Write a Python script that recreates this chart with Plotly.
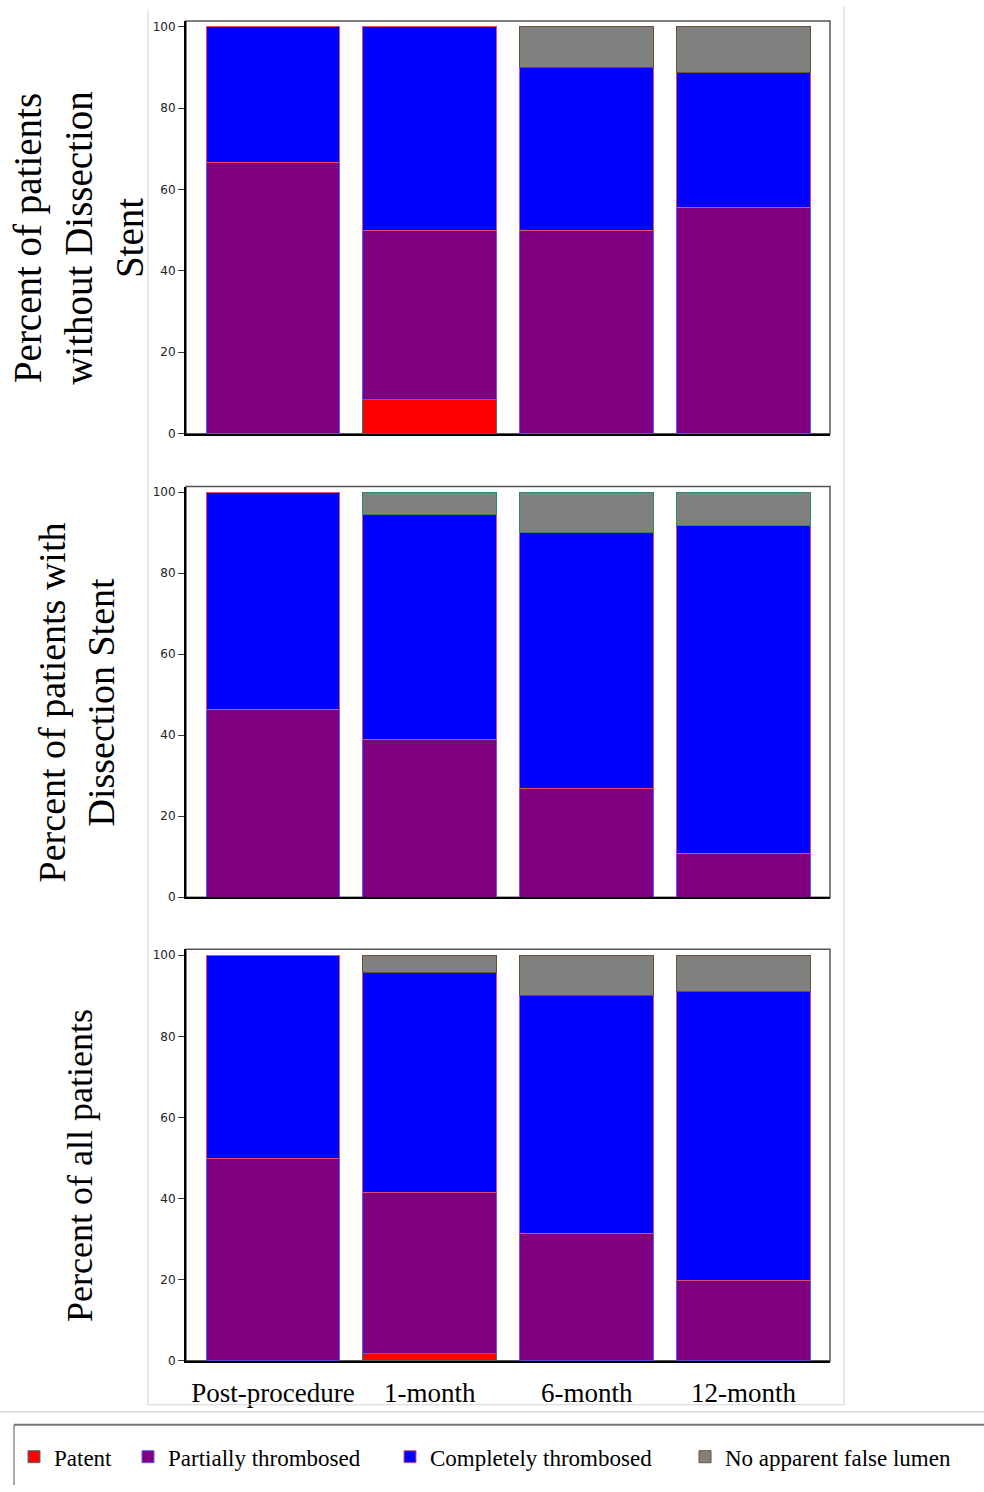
import plotly.graph_objects as go

W, H = 984, 1492
# small vertical correction observed between layout pixels and the captured picture
S = 0.9955

categories = ["Post-procedure", "1-month", "6-month", "12-month"]
series_names = ["Patent", "Partially thrombosed", "Completely thrombosed", "No apparent false lumen"]
y_ticks = [0, 20, 40, 60, 80, 100]

# Panel 1: patients without dissection stent (%)
without_patent = [0, 8.3, 0, 0]
without_partial = [66.7, 41.7, 50.0, 55.6]
without_complete = [33.3, 50.0, 40.0, 33.3]
without_none = [0, 0, 10.0, 11.1]

# Panel 2: patients with dissection stent (%)
with_patent = [0, 0, 0, 0]
with_partial = [46.4, 38.9, 26.9, 10.9]
with_complete = [53.6, 55.6, 63.2, 80.9]
with_none = [0, 5.5, 9.9, 8.2]

# Panel 3: all patients (%)
all_patent = [0, 1.7, 0, 0]
all_partial = [50.0, 39.9, 31.3, 19.7]
all_complete = [50.0, 54.2, 58.8, 71.4]
all_none = [0, 4.2, 9.9, 8.9]

titles = [
    "Percent of patients<br>without Dissection<br>Stent",
    "Percent of patients with<br>Dissection Stent",
    "Percent of all patients",
]

fill_colors = ["#FF0000", "#800080", "#0000FF", "#808080"]
edge_colors_a = ["#2a7f7f", "#5a5aff", "#e0506a", "#6e4f30"]
edge_colors_b = ["#2a7f7f", "#5a5aff", "#e0506a", "#2a8a7a"]

panels = [
    ([without_patent, without_partial, without_complete, without_none], edge_colors_a),
    ([with_patent, with_partial, with_complete, with_none], edge_colors_b),
    ([all_patent, all_partial, all_complete, all_none], edge_colors_a),
]


def px(x):
    return x / W


def py(y):
    return 1 - (y / S) / H


# pixel geometry (plot areas)
x_left, x_right = 186, 830
panel_px = [(20, 433), (486, 897), (949, 1361)]   # (top, bottom)
y_tops = [101.47, 101.4, 101.5]
title_pos = [(78, 237, 39), (76, 702, 38), (80, 1166, 36)]

fig = go.Figure()


def nz(vals):
    return [v if v else None for v in vals]


for p, (series, edges) in enumerate(panels):
    xa = "x" if p == 0 else f"x{p+1}"
    ya = "y" if p == 0 else f"y{p+1}"
    for s, vals in enumerate(series):
        fig.add_trace(go.Bar(
            x=categories, y=nz(vals), name=series_names[s],
            marker=dict(color=fill_colors[s], line=dict(color=edges[s], width=1)),
            xaxis=xa, yaxis=ya, showlegend=(p == 2), legendgroup=series_names[s],
            hoverinfo="skip"
        ))

layout = dict(
    width=W, height=H,
    margin=dict(l=0, r=0, t=0, b=0),
    paper_bgcolor="white", plot_bgcolor="white",
    barmode="stack", bargap=0.147,
    showlegend=True,
    legend=dict(
        orientation="h", x=px(14), xanchor="left", y=py(1442 * S), yanchor="top",
        font=dict(family="Liberation Serif", size=23, color="black"),
        traceorder="normal",
        bgcolor="rgba(0,0,0,0)",
    ),
)

shapes = []
annotations = []
for p in range(3):
    top, bot = panel_px[p]
    xk = "xaxis" if p == 0 else f"xaxis{p+1}"
    yk = "yaxis" if p == 0 else f"yaxis{p+1}"
    layout[xk] = dict(
        domain=[px(x_left), px(x_right)], range=[-0.554, 3.551], type="category",
        anchor="y" if p == 0 else f"y{p+1}",
        showline=True, linecolor="black", linewidth=2, ticks="", showgrid=False, zeroline=False,
        showticklabels=(p == 2), ticklabelstandoff=7,
        tickfont=dict(family="Liberation Serif", size=27, color="black"),
        fixedrange=True,
    )
    layout[yk] = dict(
        domain=[py(bot), py(top)], range=[0, y_tops[p]],
        anchor="x" if p == 0 else f"x{p+1}",
        tickvals=y_ticks, ticks="outside", ticklen=6, tickwidth=1, tickcolor="#333",
        showline=True, linecolor="black", linewidth=2, showgrid=False, zeroline=False,
        tickfont=dict(family="DejaVu Sans", size=12, color="#222"),
        fixedrange=True,
    )
    xd = "x domain" if p == 0 else f"x{p+1} domain"
    yd = "y domain" if p == 0 else f"y{p+1} domain"
    shapes.append(dict(type="rect", xref=xd, yref=yd, x0=0, x1=1, y0=0, y1=1,
                       line=dict(color="#555555", width=1.5), layer="below"))
    tx, ty, ts = title_pos[p]
    annotations.append(dict(
        text=titles[p], x=px(tx), y=py(ty), xref="paper", yref="paper",
        xanchor="center", yanchor="middle", textangle=-90, showarrow=False,
        font=dict(family="Liberation Serif", size=ts, color="black"), align="center",
    ))

# outer light frame lines
frame = "#d4d4d4"
shapes += [
    dict(type="line", xref="paper", yref="paper", x0=px(148), x1=px(148), y0=py(1405), y1=py(8),
         line=dict(color=frame, width=1)),
    dict(type="line", xref="paper", yref="paper", x0=px(844), x1=px(844), y0=py(1405), y1=py(5),
         line=dict(color=frame, width=1)),
    dict(type="line", xref="paper", yref="paper", x0=px(148), x1=px(844), y0=py(1405), y1=py(1405),
         line=dict(color=frame, width=1)),
    dict(type="line", xref="paper", yref="paper", x0=0, x1=1, y0=py(1412), y1=py(1412),
         line=dict(color="#c8c8c8", width=1)),
    # legend box
    dict(type="line", xref="paper", yref="paper", x0=px(14), x1=1, y0=py(1425), y1=py(1425),
         line=dict(color="#777777", width=2)),
    dict(type="line", xref="paper", yref="paper", x0=px(14), x1=px(14), y0=0, y1=py(1425),
         line=dict(color="#555555", width=1)),
]
layout["shapes"] = shapes
layout["annotations"] = annotations
fig.update_layout(**layout)

# per-entry widths to space legend items like the reference
entry_widths = [69, 217, 250, 240]
for tr in fig.data:
    if tr.showlegend:
        tr.legendwidth = entry_widths[series_names.index(tr.name)]

fig.write_html(
    "out.html",
    config={"displayModeBar": False},
    post_script="document.body.style.margin='0';document.body.style.overflow='hidden';",
)
